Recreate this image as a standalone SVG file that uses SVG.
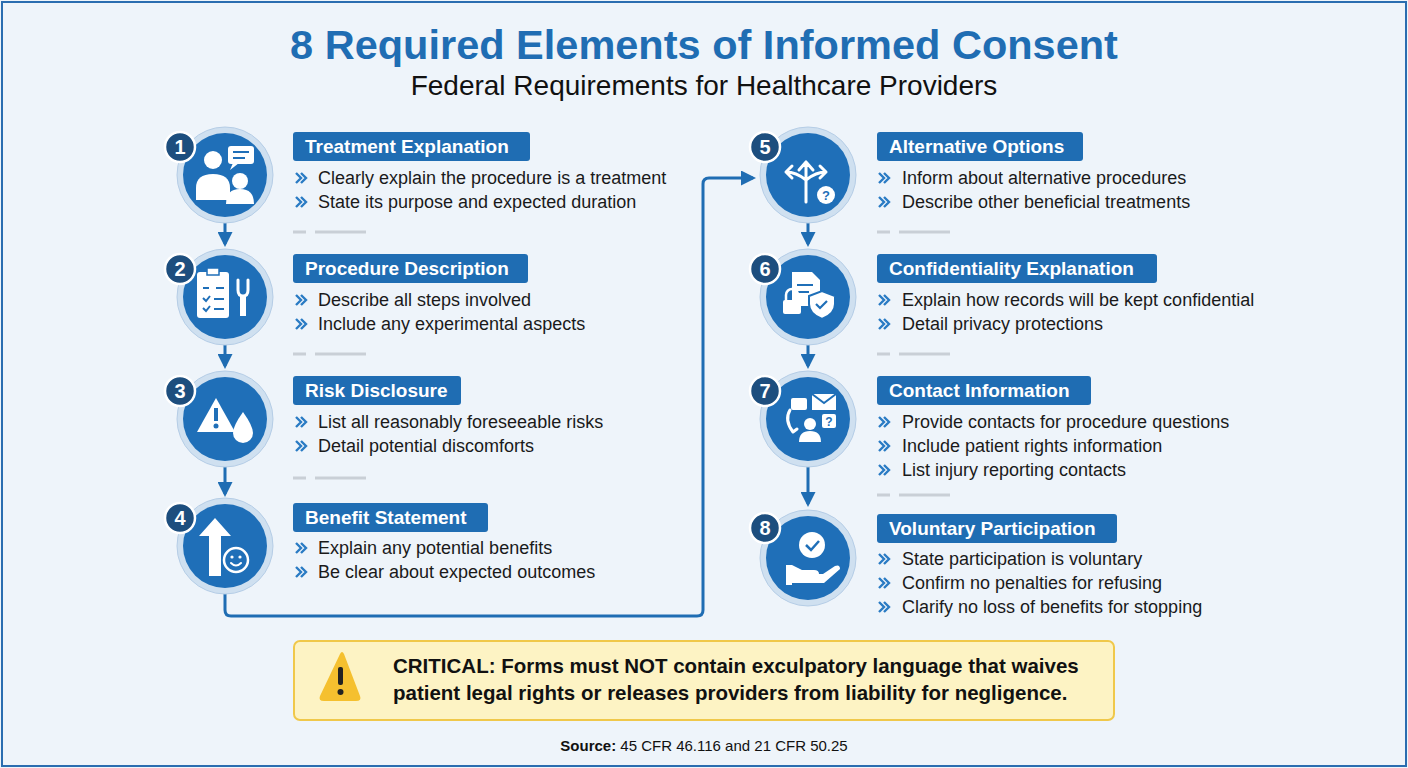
<svg xmlns="http://www.w3.org/2000/svg" width="1408" height="768" viewBox="0 0 1408 768">
<defs>
<style>
.ring{fill:#cfe0f0;stroke:#b5cde6;stroke-width:1}
.disc{fill:#1f6fb8}
.badge{fill:#1d4e7e;stroke:#fff;stroke-width:2.5}
.bn{font:bold 20px "Liberation Sans",Arial,sans-serif;fill:#fff;text-anchor:middle}
.tb{fill:#1f6db3}
.tt{font:bold 19px "Liberation Sans",Arial,sans-serif;fill:#fff}
.bt{font:18px "Liberation Sans",Arial,sans-serif;fill:#1a1a1a}
.chev{fill:none;stroke:#2a7bc4;stroke-width:2.4}
.dash{stroke:#c9cfd6;stroke-width:3}
.ic{fill:#fff}
.ics{fill:none;stroke:#fff;stroke-width:3;stroke-linecap:round;stroke-linejoin:round}
.conn{fill:none;stroke:#1f6db3;stroke-width:3}
</style>
<marker id="ah" viewBox="0 0 10 10" refX="8" refY="5" markerWidth="5" markerHeight="5" orient="auto"><path d="M0,0L10,5L0,10z" fill="#1f6db3"/></marker>
<g id="chv"><path class="chev" d="M0,-5l5,5l-5,5M5,-5l5,5l-5,5"/></g>
</defs>
<rect x="0" y="0" width="1408" height="768" fill="#eef4fa"/>
<rect x="2" y="2" width="1404" height="764" fill="none" stroke="#2a6db0" stroke-width="2"/>
<text x="704" y="59" text-anchor="middle" style="font:bold 41.5px 'Liberation Sans',Arial,sans-serif;fill:#1f6db3">8 Required Elements of Informed Consent</text>
<text x="704" y="95" text-anchor="middle" style="font:28px 'Liberation Sans',Arial,sans-serif;fill:#111">Federal Requirements for Healthcare Providers</text>

<g id="connectors">
<line class="conn" x1="225" y1="222" x2="225" y2="244" marker-end="url(#ah)"/>
<line class="conn" x1="225" y1="344" x2="225" y2="366" marker-end="url(#ah)"/>
<line class="conn" x1="225" y1="466" x2="225" y2="494" marker-end="url(#ah)"/>
<path class="conn" d="M225,592V610Q225,616 231,616H697Q703,616 703,610V184Q703,178 709,178H753" marker-end="url(#ah)"/>
<line class="conn" x1="808" y1="222" x2="808" y2="244" marker-end="url(#ah)"/>
<line class="conn" x1="808" y1="344" x2="808" y2="366" marker-end="url(#ah)"/>
<line class="conn" x1="808" y1="466" x2="808" y2="504" marker-end="url(#ah)"/>
</g>

<g id="n1">
<circle class="ring" cx="225" cy="175" r="48"/><circle class="disc" cx="225" cy="175" r="42"/>
<circle class="ic" cx="213" cy="160" r="9"/><path class="ic" d="M196,200v-12q0-14 17-14q17 0 17 14v12z"/>
<rect class="ic" x="228" y="146" width="26" height="18" rx="3"/><path class="ic" d="M233,163l-3,7l9,-7z"/>
<line x1="233" y1="152" x2="249" y2="152" stroke="#1f6fb8" stroke-width="2"/><line x1="233" y1="158" x2="245" y2="158" stroke="#1f6fb8" stroke-width="2"/>
<circle class="ic" cx="240" cy="181" r="8"/><path class="ic" d="M226,204q0-15 14-15q14 0 14 15z"/>
<circle class="badge" cx="180" cy="147" r="15"/><text class="bn" x="180" y="154">1</text>
<rect class="tb" x="293" y="132" width="237" height="29" rx="3"/><text class="tt" x="305" y="153">Treatment Explanation</text>
<use href="#chv" x="296" y="178"/><text class="bt" x="318" y="184">Clearly explain the procedure is a treatment</text>
<use href="#chv" x="296" y="202"/><text class="bt" x="318" y="208">State its purpose and expected duration</text>
<line class="dash" x1="293" y1="232" x2="306" y2="232"/><line class="dash" x1="315" y1="232" x2="366" y2="232"/>
</g>
<g id="n2">
<circle class="ring" cx="225" cy="297" r="48"/><circle class="disc" cx="225" cy="297" r="42"/>
<rect class="ic" x="197" y="272" width="32" height="46" rx="3"/><rect x="207" y="268" width="12" height="7" fill="#fff" stroke="#1f6fb8" stroke-width="1.5"/>
<path d="M203,288h6M216,288h8M203,298l3,3 4,-5M214,299h10M203,308l3,3 4,-5M214,309h10" stroke="#1f6fb8" stroke-width="2" fill="none"/>
<path class="ics" d="M238,280v10q0,6 5,6q5,0 5,-6v-10"/><rect class="ic" x="240" y="296" width="6" height="20"/>
<circle class="badge" cx="180" cy="269" r="15"/><text class="bn" x="180" y="276">2</text>
<rect class="tb" x="293" y="254" width="235" height="29" rx="3"/><text class="tt" x="305" y="275">Procedure Description</text>
<use href="#chv" x="296" y="300"/><text class="bt" x="318" y="306">Describe all steps involved</text>
<use href="#chv" x="296" y="324"/><text class="bt" x="318" y="330">Include any experimental aspects</text>
<line class="dash" x1="293" y1="354" x2="306" y2="354"/><line class="dash" x1="315" y1="354" x2="366" y2="354"/>
</g>
<g id="n3">
<circle class="ring" cx="225" cy="419" r="48"/><circle class="disc" cx="225" cy="419" r="42"/>
<path class="ic" d="M216,398l19,34h-38z"/><rect x="214" y="408" width="4" height="13" fill="#1f6fb8"/><circle cx="216" cy="426" r="2.5" fill="#1f6fb8"/>
<path class="ic" d="M243,412q-10,14 -10,21a10,10 0 0 0 20,0q0,-7 -10,-21z"/>
<circle class="badge" cx="180" cy="391" r="15"/><text class="bn" x="180" y="398">3</text>
<rect class="tb" x="293" y="376" width="168" height="29" rx="3"/><text class="tt" x="305" y="397">Risk Disclosure</text>
<use href="#chv" x="296" y="422"/><text class="bt" x="318" y="428">List all reasonably foreseeable risks</text>
<use href="#chv" x="296" y="446"/><text class="bt" x="318" y="452">Detail potential discomforts</text>
<line class="dash" x1="293" y1="478" x2="306" y2="478"/><line class="dash" x1="315" y1="478" x2="366" y2="478"/>
</g>
<g id="n4">
<circle class="ring" cx="225" cy="546" r="48"/><circle class="disc" cx="225" cy="546" r="42"/>
<path class="ic" d="M215,518l-16,18h10v40h12v-40h10z"/>
<circle cx="236" cy="560" r="12" fill="none" stroke="#fff" stroke-width="2.5"/><circle class="ic" cx="232" cy="557" r="1.6"/><circle class="ic" cx="240" cy="557" r="1.6"/><path class="ics" style="stroke-width:2" d="M231,563q5,5 10,0"/>
<circle class="badge" cx="180" cy="518" r="15"/><text class="bn" x="180" y="525">4</text>
<rect class="tb" x="293" y="503" width="195" height="29" rx="3"/><text class="tt" x="305" y="524">Benefit Statement</text>
<use href="#chv" x="296" y="548"/><text class="bt" x="318" y="554">Explain any potential benefits</text>
<use href="#chv" x="296" y="572"/><text class="bt" x="318" y="578">Be clear about expected outcomes</text>
</g>

<g id="n5">
<circle class="ring" cx="808" cy="175" r="48"/><circle class="disc" cx="808" cy="175" r="42"/>
<path class="ics" d="M806,202v-40M806,162l-7,8M806,162l7,8M806,180q-10,-8 -20,-8M786,172l6,-6M786,172l6,6M806,180q10,-8 20,-8M826,172l-6,-6M826,172l-6,6"/>
<circle class="ic" cx="826" cy="195" r="9"/><text x="826" y="200" text-anchor="middle" style="font:bold 13px 'Liberation Sans',Arial,sans-serif;fill:#1f6fb8">?</text>
<circle class="badge" cx="765" cy="147" r="15"/><text class="bn" x="765" y="154">5</text>
<rect class="tb" x="877" y="132" width="206" height="29" rx="3"/><text class="tt" x="889" y="153">Alternative Options</text>
<use href="#chv" x="879" y="178"/><text class="bt" x="902" y="184">Inform about alternative procedures</text>
<use href="#chv" x="879" y="202"/><text class="bt" x="902" y="208">Describe other beneficial treatments</text>
<line class="dash" x1="877" y1="232" x2="890" y2="232"/><line class="dash" x1="899" y1="232" x2="950" y2="232"/>
</g>
<g id="n6">
<circle class="ring" cx="808" cy="297" r="48"/><circle class="disc" cx="808" cy="297" r="42"/>
<path class="ic" d="M792,272h20l8,8v26h-28z"/><path d="M797,285h16M797,292h12" stroke="#1f6fb8" stroke-width="2"/>
<rect class="ic" x="783" y="300" width="18" height="14" rx="2"/><path class="ics" style="stroke-width:2.5" d="M786,300v-5a6,6 0 0 1 12,0v5"/>
<path class="ic" stroke="#1f6fb8" stroke-width="2" d="M822,291l13,5v8q0,10 -13,15q-13,-5 -13,-15v-8z"/><path d="M816,304l4,4 7,-7" fill="none" stroke="#1f6fb8" stroke-width="2.2"/>
<circle class="badge" cx="765" cy="269" r="15"/><text class="bn" x="765" y="276">6</text>
<rect class="tb" x="877" y="254" width="280" height="29" rx="3"/><text class="tt" x="889" y="275">Confidentiality Explanation</text>
<use href="#chv" x="879" y="300"/><text class="bt" x="902" y="306">Explain how records will be kept confidential</text>
<use href="#chv" x="879" y="324"/><text class="bt" x="902" y="330">Detail privacy protections</text>
<line class="dash" x1="877" y1="354" x2="890" y2="354"/><line class="dash" x1="899" y1="354" x2="950" y2="354"/>
</g>
<g id="n7">
<circle class="ring" cx="808" cy="419" r="48"/><circle class="disc" cx="808" cy="419" r="42"/>
<path class="ics" d="M790,410q-6,10 3,22l4,-3"/><rect class="ic" x="791" y="398" width="16" height="12" rx="2"/>
<rect class="ic" x="812" y="394" width="24" height="16"/><path d="M812,394l12,9 12,-9" fill="none" stroke="#1f6fb8" stroke-width="2"/>
<rect class="ic" x="822" y="414" width="14" height="14" rx="2"/><text x="829" y="426" text-anchor="middle" style="font:bold 12px 'Liberation Sans',Arial,sans-serif;fill:#1f6fb8">?</text>
<circle class="ic" cx="810" cy="424" r="6"/><path class="ic" d="M799,442q0,-11 11,-11q11,0 11,11z"/>
<circle class="badge" cx="765" cy="391" r="15"/><text class="bn" x="765" y="398">7</text>
<rect class="tb" x="877" y="376" width="214" height="29" rx="3"/><text class="tt" x="889" y="397">Contact Information</text>
<use href="#chv" x="879" y="422"/><text class="bt" x="902" y="428">Provide contacts for procedure questions</text>
<use href="#chv" x="879" y="446"/><text class="bt" x="902" y="452">Include patient rights information</text>
<use href="#chv" x="879" y="470"/><text class="bt" x="902" y="476">List injury reporting contacts</text>
<line class="dash" x1="877" y1="495" x2="890" y2="495"/><line class="dash" x1="899" y1="495" x2="950" y2="495"/>
</g>
<g id="n8">
<circle class="ring" cx="808" cy="558" r="48"/><circle class="disc" cx="808" cy="558" r="42"/>
<circle class="ic" cx="812" cy="545" r="13"/><path d="M806,545l5,5 8,-9" fill="none" stroke="#1f6fb8" stroke-width="2.5"/>
<path class="ic" d="M786,565h6l10,5h12q5,0 5,4h-14h18l12,-8q5,-2 5,3l-16,14h-32v2h-6z"/>
<circle class="badge" cx="765" cy="528" r="15"/><text class="bn" x="765" y="535">8</text>
<rect class="tb" x="877" y="514" width="240" height="29" rx="3"/><text class="tt" x="889" y="535">Voluntary Participation</text>
<use href="#chv" x="879" y="559"/><text class="bt" x="902" y="565">State participation is voluntary</text>
<use href="#chv" x="879" y="583"/><text class="bt" x="902" y="589">Confirm no penalties for refusing</text>
<use href="#chv" x="879" y="607"/><text class="bt" x="902" y="613">Clarify no loss of benefits for stopping</text>
</g>

<g id="warning">
<rect x="294" y="641" width="820" height="79" rx="6" fill="#fdf3c4" stroke="#f0c84a" stroke-width="2"/>
<path d="M340,654l-20,42q-2,5 4,5h32q6,0 4,-5l-16,-42q-2,-4 -4,0z" fill="#f5c02f"/>
<rect x="338" y="667" width="5" height="18" rx="2" fill="#222"/><circle cx="340.5" cy="692" r="3" fill="#222"/>
<text x="393" y="673" style="font:bold 20.5px 'Liberation Sans',Arial,sans-serif;fill:#111">CRITICAL: Forms must NOT contain exculpatory language that waives</text>
<text x="393" y="700" style="font:bold 20.5px 'Liberation Sans',Arial,sans-serif;fill:#111">patient legal rights or releases providers from liability for negligence.</text>
</g>
<text x="704" y="751" text-anchor="middle" style="font:15px 'Liberation Sans',Arial,sans-serif;fill:#111"><tspan font-weight="bold">Source:</tspan> 45 CFR 46.116 and 21 CFR 50.25</text>
</svg>
